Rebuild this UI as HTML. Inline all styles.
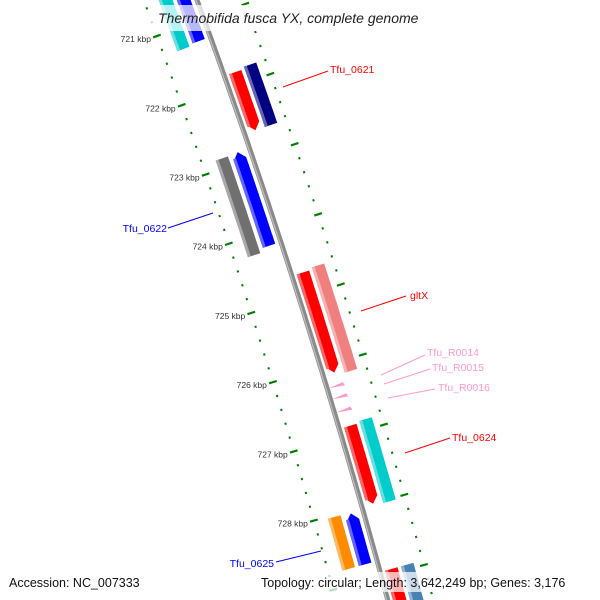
<!DOCTYPE html>
<html><head><meta charset="utf-8">
<style>
html,body{margin:0;padding:0;background:#fff;overflow:hidden;width:600px;height:600px;}
svg{display:block;font-family:"Liberation Sans",sans-serif;overflow:hidden;}
</style></head>
<body>
<svg id="map" width="600" height="600" viewBox="0 0 600 600" xmlns="http://www.w3.org/2000/svg"></svg>
<script>
// ---- data ----
const tickKbp = [720, 721, 722, 723, 724, 725, 726, 727, 728, 729, 730];
const labelKbp = [721, 722, 723, 724, 725, 726, 727, 728];
const geneNames = ["Tfu_0620", "Tfu_0620b", "Tfu_0621", "Tfu_0621b", "Tfu_0622b", "Tfu_0622", "gltX", "gltXb", "Tfu_R0014", "Tfu_R0015", "Tfu_R0016", "Tfu_0624", "Tfu_0624b", "Tfu_0625b", "Tfu_0625", "Tfu_0626", "Tfu_0626b"];
const geneStart = [720.455, 720.512, 721.818, 721.789, 722.865, 722.851, 724.687, 724.659, 726.25, 726.41, 726.60, 726.882, 726.854, 728.030, 728.044, 728.934, 728.934];
const geneEnd   = [721.287, 721.258, 722.650, 722.650, 724.257, 724.199, 726.122, 726.165, 726.36, 726.52, 726.71, 728.001, 728.030, 728.776, 728.776, 729.77, 729.77];
const geneTrack = [-2, -1, 1, 2, -2, -1, 1, 2, 0, 0, 0, 1, 2, -2, -1, 1, 2];
const geneStrand = [0, -1, 1, 0, 0, -1, 1, 0, 9, 9, 9, 1, 0, 0, -1, 1, 0];
const geneColor = ["#00cccc", "#0000ff", "#ff0000", "#000080", "#707070", "#0000ff", "#ff0000", "#f08080", "#ff99cc", "#ff99cc", "#ff99cc", "#ff0000", "#00cccc", "#ff8c00", "#0000ff", "#ff0000", "#4682b4"];

// ---- geometry ----
const NS = "http://www.w3.org/2000/svg";
const svg = document.getElementById("map");
function bx(s){ return 197 + 0.366*s - 0.00008*s*s; }
function slope(s){ return 0.366 - 0.00016*s; }
function sOf(k){ return 19 + (k-721)*69.7; }
function pt(s, d){
  const m = slope(s), n = Math.sqrt(1+m*m);
  return [bx(s) + d/n, s - d*m/n];
}
function el(tag, attrs, parent){
  const e = document.createElementNS(NS, tag);
  for (const k in attrs) e.setAttribute(k, attrs[k]);
  (parent||svg).appendChild(e);
  return e;
}
function poly(pts){ return pts.map(p=>p[0].toFixed(1)+","+p[1].toFixed(1)).join(" "); }
function band(s0, s1, d0, d1, arrow){
  const pts = [];
  const A = 7, dm = (d0+d1)/2;
  let a0 = s0, a1 = s1;
  if (arrow === 1) a1 = s1 - A;
  if (arrow === -1) a0 = s0 + A;
  for (let s=a0; s<=a1; s+=4) pts.push(pt(s,d0));
  pts.push(pt(a1,d0));
  if (arrow === 1) pts.push(pt(s1,dm));
  pts.push(pt(a1,d1));
  for (let s=a1; s>=a0; s-=4) pts.push(pt(s,d1));
  pts.push(pt(a0,d1));
  if (arrow === -1) pts.push(pt(s0,dm));
  return pts;
}

// tick marks (radial)
const gTicks = el("g", {});


[-50, 44].forEach(d=>{
  for (let k=tickKbp[0]; k<=tickKbp[tickKbp.length-1]+0.001; k+=0.2){
    const s = sOf(k);
    const major = Math.abs(k-Math.round(k))<0.01;
    const len = major ? 4 : 1;
    const p0 = pt(s, d-len), p1 = pt(s, d+len);
    const t = el("line", {x1:p0[0],y1:p0[1],x2:p1[0],y2:p1[1],stroke:"#008000","stroke-width":2.2}, gTicks);
    
    
  }
});
labelKbp.forEach(k=>{
  const p = pt(sOf(k), -50);
  const t = el("text", {x:p[0]-6, y:p[1]+6, "text-anchor":"end","font-size":"8.5",fill:"#333"});
  t.textContent = k + " kbp";
  
  
});

// backbone
let bpts = [];
for (let s=-20; s<=620; s+=5) bpts.push([bx(s), s]);
const bb = el("polyline", {points:poly(bpts), fill:"none", stroke:"#8a8a8a","stroke-width":5});


const bb2 = el("polyline", {points:poly(bpts.map(p=>[p[0]-1.2,p[1]])), fill:"none", stroke:"#bdbdbd","stroke-width":1.3});



// genes
const trackD = {"-2":[-36,-23], "-1":[-19,-6], "1":[5,18], "2":[21.5,34.5]};
function lighten(c){
  const n = parseInt(c.slice(1),16);
  let r=n>>16, g=(n>>8)&255, b=n&255;
  r=Math.round(r+(255-r)*0.4); g=Math.round(g+(255-g)*0.4); b=Math.round(b+(255-b)*0.4);
  return "rgb("+r+","+g+","+b+")";
}
geneNames.forEach((name,i)=>{
  const s0 = sOf(geneStart[i]), s1 = sOf(geneEnd[i]);
  if (geneStrand[i] === 9){
    const a = pt(s0, 6), b = pt(s1, 12), c = pt(s0+2, 16);
    const tri = el("polygon", {points:poly([[a[0]-3,a[1]+5],[b[0]+3,b[1]-7],[c[0]+3,c[1]+3]]), fill:geneColor[i]});
    
    
    return;
  }
  const d = trackD[String(geneTrack[i])];
  const g = el("g", {});
  
  
  el("polygon", {points:poly(band(s0,s1,d[0],d[1],geneStrand[i])), fill:geneColor[i]}, g);
  el("polygon", {points:poly(band(s0+ (geneStrand[i]===-1?5:0), s1-(geneStrand[i]===1?5:0), d[0], d[0]+3, 0)), fill:lighten(geneColor[i])}, g);
});

// gene labels
const labels = [
  ["Tfu_0621","#ff0000",330,73,"start",283,87,328,71],
  ["Tfu_0622","#0000ff",167,232,"end",168,228,213,213],
  ["gltX","#ff0000",410,299,"start",361,311,406,296],
  ["Tfu_R0014","#ff99cc",427,356,"start",381,375,425,355],
  ["Tfu_R0015","#ff99cc",432,371,"start",384,384,430,369],
  ["Tfu_R0016","#ff99cc",438,391,"start",388,398,435,389],
  ["Tfu_0624","#ff0000",452,441,"start",405,453,450,438],
  ["Tfu_0625","#0000ff",274,567,"end",276,562,321,551]
];
labels.forEach(L=>{
  const ln = el("line", {x1:L[5],y1:L[6],x2:L[7],y2:L[8],stroke:L[1],"stroke-width":1});
  
  
  const t = el("text", {x:L[2],y:L[3],"text-anchor":L[4],"font-size":"10.5",fill:L[1]});
  t.textContent = L[0];
  
  
});

// title & footer
const tb = el("rect", {x:150,y:5,width:296,height:26,fill:"#fff","fill-opacity":0.72});


const title = el("text", {x:158,y:23,"font-size":"14","font-style":"italic",fill:"#222"});
title.textContent = "Thermobifida fusca YX, complete genome";


const fb1 = el("rect", {x:4,y:572,width:146,height:20,fill:"#fff","fill-opacity":0.72});


const fb2 = el("rect", {x:256,y:572,width:340,height:20,fill:"#fff","fill-opacity":0.72});


const acc = el("text", {x:9,y:587,"font-size":"12.5",fill:"#111"});
acc.textContent = "Accession: NC_007333";


const topo = el("text", {x:261,y:587,"font-size":"12.5",fill:"#111"});
topo.textContent = "Topology: circular; Length: 3,642,249 bp; Genes: 3,176";


</script>
</body></html>
